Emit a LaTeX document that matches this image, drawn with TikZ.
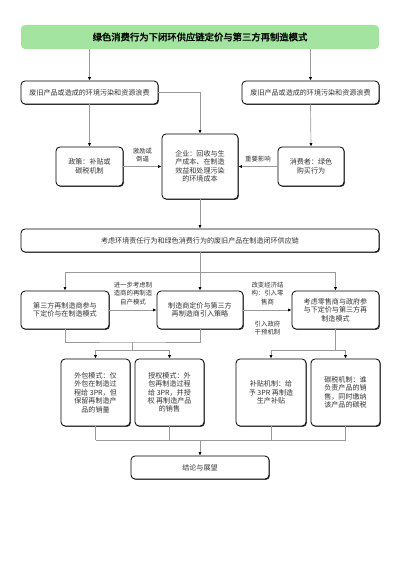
\documentclass[tikz,border=0pt]{standalone}
\usepackage{fontspec}
\setmainfont{Noto Sans CJK SC}[AutoFakeBold=2]
\usepackage{tikz}
\usetikzlibrary{shadows}
\usetikzlibrary{arrows.meta}
\definecolor{titlegreen}{HTML}{A3E4A0}
\definecolor{linkgray}{HTML}{9A9A9A}
\definecolor{inkgray}{HTML}{333333}

\tikzset{
  box/.style={draw=black, line width=0.6pt, rounded corners=3pt, fill=white, align=center,
    text=inkgray, font=\fontsize{5.3}{6.3}\selectfont, inner sep=1pt,
    drop shadow={shadow xshift=0.7pt, shadow yshift=-0.7pt, fill=black!70, opacity=1}},
  sz/.style 2 args={minimum width=#1*0.75pt, minimum height=#2*0.75pt},
  titlebox/.style={fill=titlegreen, rounded corners=3pt, align=center, text=black,
    font=\fontsize{7}{8}\selectfont\bfseries, inner sep=1pt},
  link/.style={draw=linkgray, line width=0.5pt},
  arr/.style={link, -{Latex[black, length=2.6pt, width=2.4pt]}},
  lbl/.style={font=\fontsize{4.8}{6.3}\selectfont, text=inkgray, align=center, inner sep=0.75pt},
}

\begin{document}
\begin{tikzpicture}[x=0.75pt,y=0.75pt,yscale=-1,xscale=1]
\useasboundingbox (0,0) rectangle (400,566);
% Title
\node [titlebox, sz={358}{24}] (title) at (200,37) {绿色消费行为下闭环供应链定价与第三方再制造模式};
% Boxes
\node [box, sz={137}{23}] (waste1) at (89.5,92.5) {废旧产品或造成的环境污染和资源浪费};
\node [box, sz={137}{23}] (waste2) at (310.5,92.5) {废旧产品或造成的环境污染和资源浪费};
\node [box, sz={67}{39}] (policy) at (89.5,166.5) {政策：补贴或\\碳税机制};
\node [box, sz={76}{65}] (firm) at (200,166.5) {企业：回收与生\\产成本、在制造\\效益和处理污染\\的环境成本};
\node [box, sz={66}{39}] (consumer) at (311,166.5) {消费者：绿色\\购买行为};
\node [box, sz={358}{23}] (chain) at (200,240.5) {考虑环境责任行为和绿色消费行为的废旧产品在制造闭环供应链};
\node [box, sz={88}{38}] (thirdparty) at (65,310) {第三方再制造商参与\\下定价与在制造模式};
\node [box, sz={86}{38}] (pricing) at (200,310) {制造商定价与第三方\\再制造商引入策略};
\node [box, sz={87}{38}] (retail) at (335.5,310) {考虑零售商与政府参\\与下定价与第三方再\\制造模式};
\node [box, sz={69}{67}] (outsrc) at (95.5,392.5) {外包模式：仅\\外包在制造过\\程给 3PR，但\\保留再制造产\\品的销量};
\node [box, sz={69}{67}] (license) at (169.5,392.5) {授权模式：外\\包再制造过程\\给 3PR，并授\\权 再制造产品\\的销售};
\node [box, sz={70}{67}] (subsidy) at (271,392.5) {补贴机制：给\\予 3PR 再制造\\生产补贴};
\node [box, sz={69}{67}] (carbontax) at (345.5,392.5) {碳税机制：谁\\负责产品的销\\售，同时缴纳\\该产品的碳税};
\node [box, sz={138}{23}] (summary) at (200,467.5) {结论与展望};
% Junctions
\coordinate (split) at (200,272);
\coordinate (joinA) at (132,342);
\coordinate (forkA) at (132,350);
\coordinate (forkB) at (335.5,350);
\coordinate (joinB) at (200,440);
% Connectors
\draw [arr] (title.south -| waste1) -- (waste1.north);
\draw [arr] (title.south -| waste2) -- (waste2.north);
\draw [arr] (waste1.south) -- (policy.north);
\draw [arr] (waste1.east) -| (firm.north);
\draw [arr] (waste2.south) -- (consumer.north);
\draw [arr] (policy.east) -- (firm.west) node [lbl, midway, above=2pt] {激励或\\倒逼};
\draw [arr] (consumer.west) -- (firm.east) node [lbl, midway, above=2pt] {重要影响};
\draw [arr] (firm.south) -- (chain.north);
\draw [arr] (chain.south) -- (pricing.north);
\draw [arr] (split) -| (thirdparty.north);
\draw [arr] (split) -| (retail.north);
\draw [arr] (thirdparty.east) -- (pricing.west) node [lbl, midway, above=3pt] {进一步考虑制\\造商的再制造\\自产模式};
\draw [arr] (pricing.east) -- (retail.west)
  node [lbl, midway, above=3pt] {改变经济结\\构：引入零\\售商}
  node [lbl, midway, below=7pt] {引入政府\\干预机制};
\draw [link] (thirdparty.south) |- (joinA) -| (pricing.south);
\draw [link] (joinA) -- (forkA);
\draw [arr] (forkA) -| (outsrc.north);
\draw [arr] (forkA) -| (license.north);
\draw [link] (retail.south) -- (forkB);
\draw [arr] (forkB) -| (subsidy.north);
\draw [arr] (forkB) -| (carbontax.north);
\foreach \n in {outsrc,license,subsidy,carbontax}
  \draw [link] (\n.south) -- (\n.south |- joinB);
\draw [link] (outsrc.south |- joinB) -- (carbontax.south |- joinB);
\draw [arr] (joinB) -- (summary.north);
\end{tikzpicture}
\end{document}
